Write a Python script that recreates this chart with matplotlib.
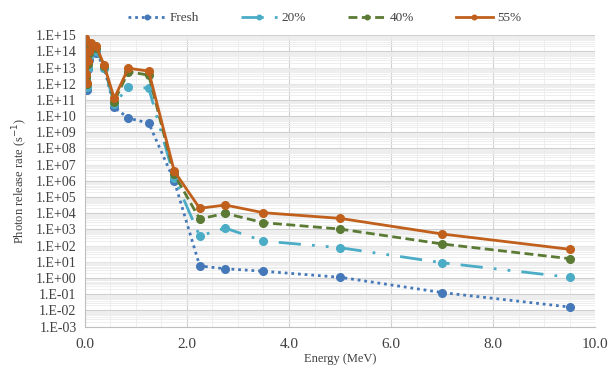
import numpy as np
import matplotlib.pyplot as plt
from matplotlib.ticker import FixedLocator, LogLocator, NullFormatter, FuncFormatter

# energy group midpoints (MeV)
energy = [0.01, 0.025, 0.0375, 0.0575, 0.085, 0.125, 0.225, 0.375, 0.575,
          0.85, 1.25, 1.75, 2.25, 2.75, 3.5, 5.0, 7.0, 9.5]

# photon release rate (1/s)
fresh = [4.0e14, 1.0e12, 4.0e11, 8.0e12, 3.0e13, 1.0e14, 8.0e13, 1.0e13, 3.5e10,
         7.5e9, 3.7e9, 1.0e6, 5.5e0, 3.7e0, 2.6e0, 1.1e0, 1.25e-1, 1.6e-2]
p20 = [5.0e14, 1.6e12, 6.3e11, 1.0e13, 5.0e13, 1.3e14, 1.0e14, 1.0e13, 5.6e10,
       6.3e11, 5.4e11, 1.6e6, 3.9e2, 1.2e3, 1.9e2, 7.4e1, 8.7e0, 1.1e0]
p40 = [5.6e14, 2.5e12, 1.0e12, 1.6e13, 8.0e13, 2.0e14, 1.6e14, 1.3e13, 7.9e10,
       5.5e12, 3.4e12, 2.5e6, 4.4e3, 9.8e3, 2.6e3, 1.05e3, 1.26e2, 1.55e1]
p55 = [6.3e14, 4.0e12, 1.1e12, 2.5e13, 1.0e14, 3.2e14, 2.0e14, 1.4e13, 1.26e11,
       9.1e12, 6.0e12, 4.0e6, 2.0e4, 3.2e4, 1.07e4, 4.8e3, 5.2e2, 5.9e1]

labels = ['Fresh', '20%', '40%', '55%']

plt.rcParams['font.family'] = ['Liberation Serif', 'DejaVu Serif']

fig = plt.figure(figsize=(6.11, 3.74), dpi=100)
ax = fig.add_axes([0.139, 0.127, 0.835, 0.779])

lw = 2.0
ax.plot(energy, fresh, color='#4478b8', linestyle=(0, (1, 1.4)), linewidth=lw,
        marker='o', markersize=5.5, label=labels[0])
ax.plot(energy, p20, color='#4bacc6', linestyle=(0, (8, 4, 1, 4, 1, 4)), linewidth=lw,
        marker='o', markersize=5.5, label=labels[1])
ax.plot(energy, p40, color='#5b7a34', linestyle=(0, (3.2, 1.6)), linewidth=lw,
        marker='o', markersize=5.5, label=labels[2])
ax.plot(energy, p55, color='#c0601c', linestyle='-', linewidth=lw,
        marker='o', markersize=5.5, label=labels[3])

ax.set_yscale('log')
ax.set_ylim(1e-3, 1e15)
ax.set_xlim(0, 10)

ax.yaxis.set_major_locator(FixedLocator([10.0 ** k for k in range(-3, 16)]))
ax.yaxis.set_minor_locator(LogLocator(base=10, subs=np.arange(2, 10), numticks=40))
ax.yaxis.set_minor_formatter(NullFormatter())


def efmt(v, pos):
    k = int(round(np.log10(v)))
    return '1.E%s%02d' % ('+' if k >= 0 else '-', abs(k))


ax.yaxis.set_major_formatter(FuncFormatter(efmt))
ax.set_xticks(np.arange(0, 10.1, 2))
ax.set_xticks(np.arange(0, 10.1, 0.5), minor=True)
ax.xaxis.set_major_formatter(FuncFormatter(lambda v, p: '%.1f' % v))

ax.grid(True, which='major', color='#d0d0d0', linewidth=0.8)
ax.grid(True, which='minor', color='#ebebeb', linewidth=0.6)
ax.set_axisbelow(True)

ax.tick_params(which='both', length=0)
ax.tick_params(axis='y', labelsize=10, colors='#404040', pad=6)
ax.tick_params(axis='x', labelsize=11, colors='#404040', pad=8)
for s in ['top', 'right']:
    ax.spines[s].set_visible(False)
for s in ['left', 'bottom']:
    ax.spines[s].set_color('#bfbfbf')

ax.set_xlabel('Energy (MeV)', fontsize=9, color='#404040', labelpad=2)
ax.set_ylabel('Photon release rate (s$^{-1}$)', fontsize=9, color='#404040', labelpad=4)

leg = ax.legend(loc='lower center', bbox_to_anchor=(0.47, 1.015), ncol=4, frameon=False,
                fontsize=9.5, handlelength=2.8, handletextpad=0.3, columnspacing=3.2,
                markerscale=0.6, borderaxespad=0.1)
for t in leg.get_texts():
    t.set_color('#404040')

fig.savefig('out.png', dpi=100)
